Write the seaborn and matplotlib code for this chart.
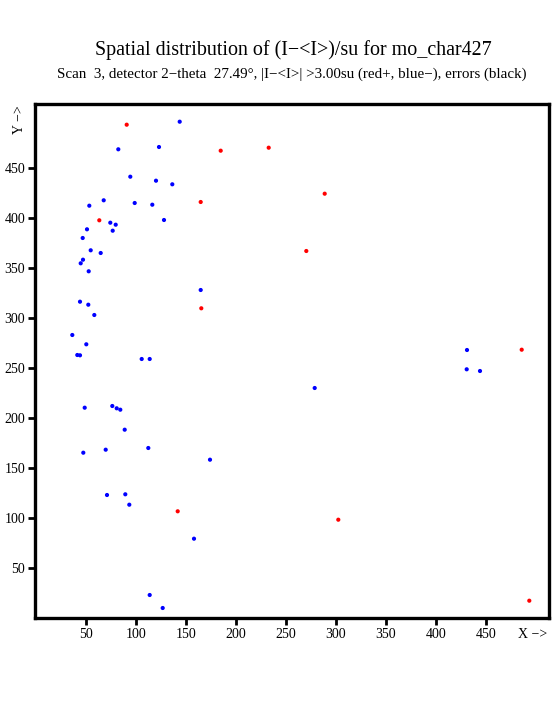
import numpy as np
import pandas as pd
import matplotlib
matplotlib.use("Agg")
import matplotlib.pyplot as plt
import seaborn as sns

# positive deviations (red)
red_x = [90.7, 184.7, 232.7, 288.7, 164.7, 63.3, 270.3, 165.3, 485.7, 141.7, 302.3, 493.3]
red_y = [493.3, 467.3, 470.3, 424.3, 416.0, 397.7, 367.0, 309.7, 268.3, 106.7, 98.3, 17.3]

# negative deviations (blue)
blue_x = [143.7, 82.3, 123.0, 94.3, 120.0, 136.3, 67.7, 53.3, 98.7, 116.3,
          74.3, 79.7, 76.7, 128.0, 51.0, 46.7, 54.7, 64.7, 47.0, 44.7,
          52.7, 164.7, 44.0, 52.3, 58.3, 36.3, 50.3, 41.3, 44.0, 105.7,
          113.7, 431.0, 430.7, 444.0, 278.7, 48.7, 76.3, 80.7, 84.3, 88.7,
          47.3, 69.7, 112.3, 174.0, 71.0, 89.3, 93.3, 158.0, 113.7, 126.7]
blue_y = [496.3, 468.7, 471.0, 441.3, 437.3, 433.7, 417.7, 412.3, 415.0, 413.3,
          395.3, 393.3, 387.3, 398.0, 388.7, 380.0, 367.7, 365.0, 358.3, 354.7,
          346.7, 328.0, 316.3, 313.3, 303.0, 283.0, 273.7, 263.0, 262.7, 259.0,
          259.0, 268.0, 248.7, 247.0, 230.0, 210.3, 212.0, 209.7, 208.3, 188.3,
          165.3, 168.3, 170.0, 158.3, 123.0, 123.7, 113.3, 79.3, 23.0, 10.0]

ticks = [50, 100, 150, 200, 250, 300, 350, 400, 450]

df = pd.DataFrame({
    "x": red_x + blue_x,
    "y": red_y + blue_y,
    "sign": ["+"] * len(red_x) + ["-"] * len(blue_x),
})

sns.set_style("white")
plt.rcParams["font.family"] = ["Liberation Serif", "DejaVu Serif"]
plt.rcParams["text.color"] = "black"

fig = plt.figure(figsize=(5.55, 7.25), dpi=100)
ax = fig.add_axes([35 / 555, 107 / 725, 514 / 555, 514 / 725])

sns.scatterplot(data=df, x="x", y="y", hue="sign", palette={"+": "red", "-": "blue"},
                s=9, linewidth=0, legend=False, ax=ax)

ax.set_xlim(-1, 513)
ax.set_ylim(0, 514)
ax.set_xticks(ticks)
ax.set_yticks(ticks)
ax.set_xlabel("")
ax.set_ylabel("")
for sp in ax.spines.values():
    sp.set_visible(True)
    sp.set_linewidth(2.4)
    sp.set_color("black")
ax.tick_params(direction="out", length=5, width=2, labelsize=10, pad=2,
               bottom=True, left=True, colors="black")

ax.text(0.969, -0.033, "X \u2212>", transform=ax.transAxes, ha="center", va="center", fontsize=10)
ax.text(-0.030, 0.970, "Y \u2212>", transform=ax.transAxes, ha="center", va="center",
        rotation=90, fontsize=10)

fig.text(0.528, 1 - 50 / 725, "Spatial distribution of (I\u2212<I>)/su for mo_char427",
         ha="center", va="center", fontsize=14.4)
fig.text(0.525, 1 - 74 / 725,
         "Scan  3, detector 2\u2212theta  27.49\u00b0, |I\u2212<I>| >3.00su (red+, blue\u2212), errors (black)",
         ha="center", va="center", fontsize=10.8)

fig.savefig("out.png", dpi=100)
